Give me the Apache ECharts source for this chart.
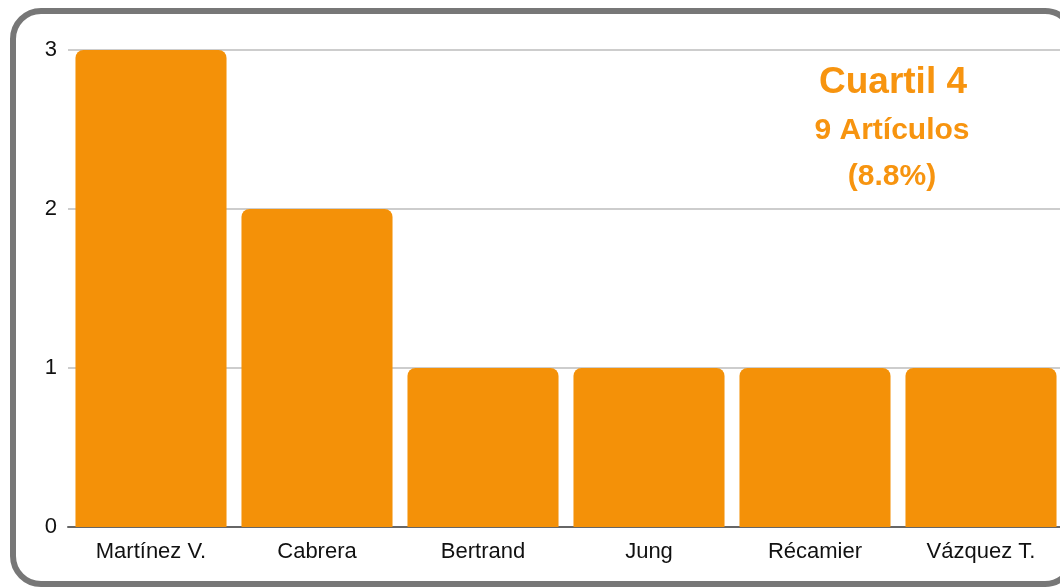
<!DOCTYPE html>
<html>
<head>
<meta charset="utf-8">
<script src="https://cdn.jsdelivr.net/npm/echarts@6/dist/echarts.min.js"></script>
<style>
  html, body { margin: 0; padding: 0; background: #fff; }
  #main { width: 1060px; height: 587px; }
</style>
</head>
<body>
<div id="main"></div>
<script>
const autores = ['Martínez V.', 'Cabrera', 'Bertrand', 'Jung', 'Récamier', 'Vázquez T.']
const articulos = [3, 2, 1, 1, 1, 1]
const titulo = ['Cuartil 4', '9 Artículos', '(8.8%)']

const naranja = '#f7940f'
const fuente = '"Liberation Sans", Arial, sans-serif'

const chart = echarts.init(document.getElementById('main'))

chart.setOption({
    animation: false,
    textStyle: { fontFamily: fuente },
    grid: { left: 68, top: 50, width: 996, bottom: 60, outerBoundsMode: 'none' },
    graphic: [
        {
            type: 'rect',
            shape: { x: 13, y: 11, width: 1060, height: 573, r: 28 },
            style: { fill: 'none', stroke: '#777', lineWidth: 6 },
            z: -1,
        },
        {
            type: 'text',
            x: 893,
            y: 83,
            style: {
                text: titulo[0],
                fill: naranja,
                font: 'bold 37px ' + fuente,
                textAlign: 'center',
                textVerticalAlign: 'middle',
            },
        },
        {
            type: 'text',
            x: 892,
            y: 131,
            style: {
                text: titulo[1],
                fill: naranja,
                font: 'bold 30px ' + fuente,
                textAlign: 'center',
                textVerticalAlign: 'middle',
            },
        },
        {
            type: 'text',
            x: 892,
            y: 177,
            style: {
                text: titulo[2],
                fill: naranja,
                font: 'bold 30px ' + fuente,
                textAlign: 'center',
                textVerticalAlign: 'middle',
            },
        },
    ],
    xAxis: {
        type: 'category',
        data: autores,
        axisLine: { lineStyle: { color: '#666', width: 2 } },
        axisTick: { show: false },
        axisLabel: { color: '#111', fontSize: 22, margin: 14 },
    },
    yAxis: {
        type: 'value',
        min: 0,
        max: 3,
        interval: 1,
        axisLine: { show: false },
        axisTick: { show: false },
        axisLabel: { color: '#111', fontSize: 22, margin: 11 },
        splitLine: { lineStyle: { color: '#bdbdbd', width: 1.5 } },
    },
    series: [
        {
            type: 'bar',
            data: articulos,
            barCategoryGap: '9%',
            itemStyle: { color: '#f49108', borderRadius: [8, 8, 0, 0] },
        },
    ],
})
</script>
</body>
</html>
